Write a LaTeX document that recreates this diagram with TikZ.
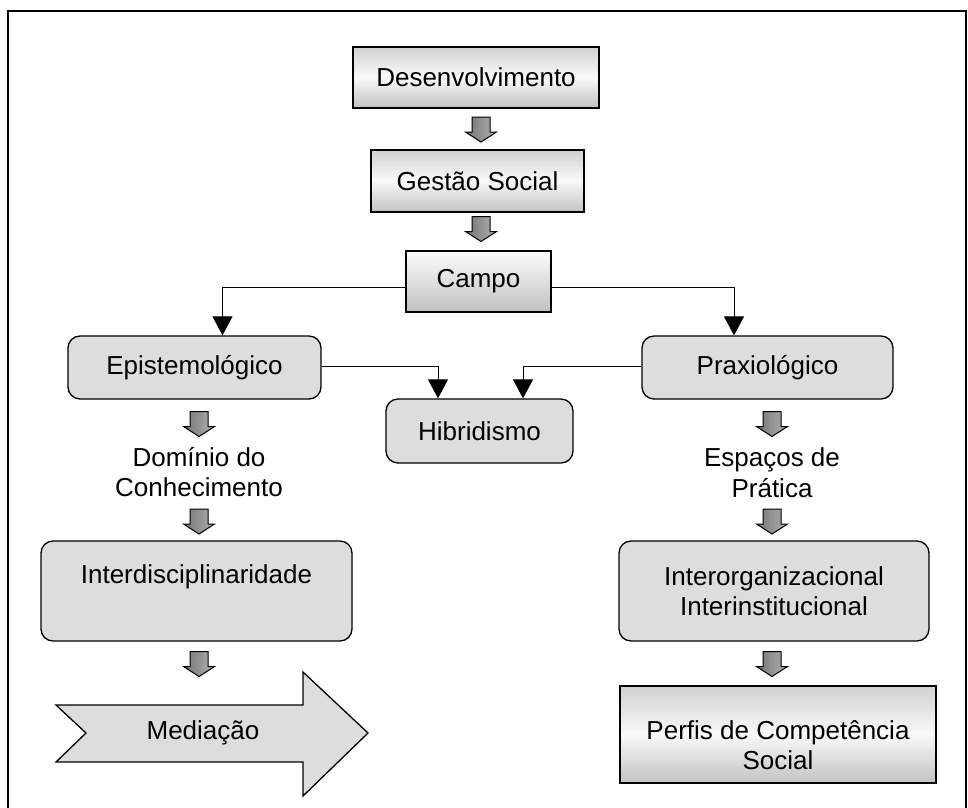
\documentclass[tikz,border=0pt]{standalone}
\usepackage{fontspec}
\setmainfont{Liberation Sans}
\usetikzlibrary{arrows.meta,calc}
\definecolor{boxgray}{RGB}{221,221,221}
% horizontal bands, top to bottom
\newcommand\stripfill[1]{%
  \foreach \i in {0,...,39}{%
    \pgfmathsetmacro\tt{(\i+0.5)/40}%
    \pgfmathsetmacro\p{#1}%
    \fill[black!\p]
      ($(path picture bounding box.north west)!{\i/40}!(path picture bounding box.south west)$)
      rectangle
      ($(path picture bounding box.north east)!{min(1,(\i+1.2)/40)}!(path picture bounding box.south east)$);
  }}
% vertical bands, left to right
\newcommand\colfill[1]{%
  \foreach \i in {0,...,11}{%
    \pgfmathsetmacro\tt{(\i+0.5)/12}%
    \pgfmathsetmacro\p{#1}%
    \fill[black!\p]
      ($(path picture bounding box.north west)!{\i/12}!(path picture bounding box.north east)$)
      rectangle
      ($(path picture bounding box.south west)!{min(1,(\i+1.2)/12)}!(path picture bounding box.south east)$);
  }}
\tikzset{
  basebox/.style={draw=black, line width=1.3pt, inner sep=0pt, align=center},
  gradbox/.style={basebox, fill=white,
    path picture={\stripfill{\tt<0.5 ? 18-31*\tt : 2.5+42*(\tt-0.5)}}},
  campobox/.style={basebox, fill=white, path picture={\stripfill{1+23*\tt}}},
  roundbox/.style={basebox, rounded corners=12pt, fill=boxgray},
  plaintext/.style={inner sep=0pt, align=center},
  conn/.style={draw=black, line width=1pt, -{Triangle[width=20pt,length=19pt]}},
  barrow/.pic={\draw[line width=1pt, fill=black!45, path picture={\colfill{55-24*\tt}}]
    (-9,12.5) -- (9,12.5) -- (9,-2.5) -- (15.5,-2.5) -- (0,-12.5)
    -- (-15.5,-2.5) -- (-9,-2.5) -- cycle;},
}
\begin{document}
\begin{tikzpicture}[x=1pt,y=1pt,font=\fontsize{26pt}{30.5pt}\selectfont]
\useasboundingbox (0,0) rectangle (968,-807);
\fill[white] (0,0) rectangle (968,-807);
% frame
\draw[line width=1.4pt] (966,-812) -- (966,-11) -- (8,-11) -- (8,-812);

% top chain
\node[gradbox, minimum width=246pt, minimum height=61pt] (desenv) at (476,-77.5) {Desenvolvimento};
\node[gradbox, minimum width=213pt, minimum height=62pt] (gestao) at (477.5,-181) {Gestão Social};
\node[campobox, minimum width=145pt, minimum height=61pt] (campo) at (478.5,-281.5) {Campo};
\coordinate (ba1) at (481,-129.5);
\coordinate (ba2) at (481,-229);
\pic at (ba1) {barrow};
\pic at (ba2) {barrow};

% second level
\node[roundbox, minimum width=253pt, minimum height=63pt] (epist) at (194.5,-367.5) {Epistemológico};
\node[roundbox, minimum width=251pt, minimum height=63pt] (praxi) at (767.5,-367.5) {Praxiológico};
\node[roundbox, minimum width=187pt, minimum height=64pt] (hibrid) at (479.5,-431) {Hibridismo};

\draw[conn] ([yshift=-5.5pt]campo.west) -| ([xshift=28pt]epist.north);
\draw[conn] ([yshift=-5.5pt]campo.east) -| ([xshift=-33.5pt]praxi.north);
\draw[conn] ([yshift=1.5pt]epist.east) -| ([xshift=-41.5pt]hibrid.north);
\draw[conn] ([yshift=1.5pt]praxi.west) -| ([xshift=43.5pt]hibrid.north);

% left column
\coordinate (ba3) at (199,-424);
\pic at (ba3) {barrow};
\node[plaintext] (dominio) at (199,-472) {Domínio do\\Conhecimento};
\coordinate (ba4) at (199,-521.5);
\pic at (ba4) {barrow};
\node[roundbox, minimum width=311pt, minimum height=100pt] (interd) at (196.5,-591) {};
\node[plaintext] (interdt) at (196.5,-577) {Interdisciplinaridade};
\coordinate (ba5) at (199,-664);
\pic at (ba5) {barrow};
\draw[line width=1.3pt, fill=boxgray]
  (56,-705) -- (303,-705) -- (303,-672) -- (368,-733) -- (303,-796) -- (303,-762)
  -- (56,-762) -- (86,-733) -- cycle;
\node[plaintext] (med) at (203,-733) {Mediação};

% right column
\coordinate (ba6) at (772,-424);
\pic at (ba6) {barrow};
\node[plaintext] (espacos) at (772,-472.5) {Espaços de\\Prática};
\coordinate (ba7) at (772,-521.5);
\pic at (ba7) {barrow};
\node[roundbox, minimum width=310pt, minimum height=100pt] (interorg) at (774,-591) {Interorganizacional\\Interinstitucional};
\coordinate (ba8) at (772,-664);
\pic at (ba8) {barrow};
\node[gradbox, minimum width=316pt, minimum height=97pt] (perfis) at (778,-734.5) {};
\node[plaintext] (perfist) at (778,-745) {Perfis de Competência\\Social};
\end{tikzpicture}
\end{document}
